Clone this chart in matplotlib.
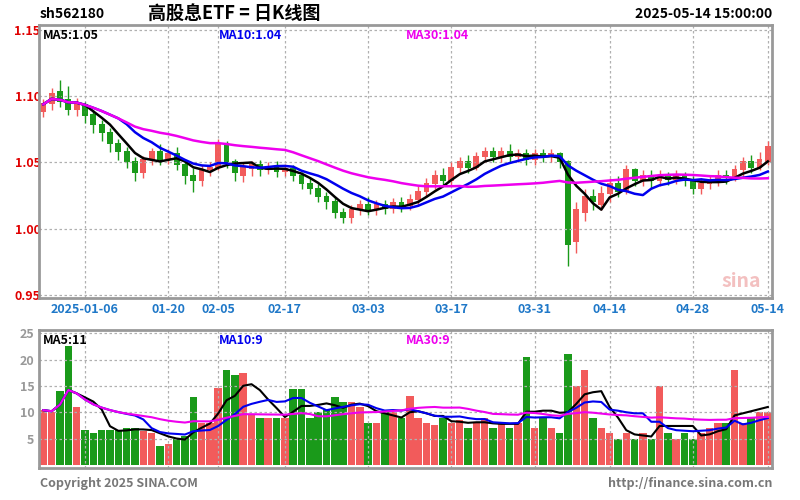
"""Sina-style daily K-line chart with volume panel (ETF, 2024-12-27 .. 2025-05-14)."""

import matplotlib

matplotlib.use("Agg")
import matplotlib.pyplot as plt  # noqa: E402
import numpy as np  # noqa: E402
import pandas as pd  # noqa: E402

plt.rcParams["font.family"] = ["Noto Sans CJK SC", "DejaVu Sans"]

# trading days shown, one bar each
dates = (
    ["2024-12-27", "2024-12-30", "2024-12-31", "2025-01-02", "2025-01-03"]
    + [f"2025-01-{d:02d}" for d in (6, 7, 8, 9, 10, 13, 14, 15, 16, 17, 20, 21, 22, 23, 24, 27)]
    + [f"2025-02-{d:02d}" for d in (5, 6, 7, 10, 11, 12, 13, 14, 17, 18, 19, 20, 21, 24, 25, 26, 27, 28)]
    + [f"2025-03-{d:02d}" for d in (3, 4, 5, 6, 7, 10, 11, 12, 13, 14, 17, 18, 19, 20, 21, 24, 25, 26, 27, 28, 31)]
    + [f"2025-04-{d:02d}" for d in (1, 2, 3, 7, 8, 9, 10, 11, 14, 15, 16, 17, 18, 21, 22, 23, 24, 25, 28, 29, 30)]
    + [f"2025-05-{d:02d}" for d in (6, 7, 8, 9, 12, 13, 14)]
)
opens = [1.088, 1.094, 1.103, 1.097, 1.090, 1.093, 1.086, 1.078, 1.072, 1.064,
         1.058, 1.050, 1.042, 1.052, 1.058, 1.053, 1.056, 1.048, 1.040, 1.036,
         1.044, 1.046, 1.064, 1.050, 1.040, 1.045, 1.048, 1.044, 1.046, 1.043,
         1.045, 1.040, 1.034, 1.030, 1.024, 1.020, 1.012, 1.008, 1.014, 1.018,
         1.014, 1.018, 1.015, 1.019, 1.017, 1.022, 1.028, 1.034, 1.040, 1.036,
         1.046, 1.050, 1.046, 1.054, 1.058, 1.054, 1.058, 1.054, 1.056, 1.052,
         1.056, 1.054, 1.056, 1.050, 0.990, 1.012, 1.024, 1.018, 1.026, 1.034,
         1.028, 1.044, 1.036, 1.040, 1.036, 1.040, 1.037, 1.040, 1.036, 1.030,
         1.034, 1.036, 1.040, 1.038, 1.044, 1.050, 1.046, 1.050]
closes = [1.094, 1.102, 1.096, 1.090, 1.094, 1.085, 1.078, 1.072, 1.064, 1.058,
          1.050, 1.042, 1.052, 1.058, 1.052, 1.056, 1.048, 1.040, 1.036, 1.044,
          1.046, 1.064, 1.050, 1.042, 1.046, 1.048, 1.044, 1.046, 1.043, 1.045,
          1.040, 1.034, 1.030, 1.024, 1.020, 1.012, 1.008, 1.014, 1.018, 1.014,
          1.018, 1.015, 1.019, 1.017, 1.022, 1.028, 1.034, 1.040, 1.036, 1.046,
          1.050, 1.046, 1.054, 1.058, 1.054, 1.058, 1.054, 1.056, 1.052, 1.056,
          1.054, 1.056, 1.050, 0.988, 1.014, 1.024, 1.020, 1.026, 1.034, 1.028,
          1.044, 1.036, 1.040, 1.036, 1.040, 1.037, 1.040, 1.036, 1.030, 1.034,
          1.036, 1.040, 1.038, 1.044, 1.050, 1.046, 1.052, 1.062]
highs = [1.098, 1.106, 1.112, 1.108, 1.099, 1.096, 1.090, 1.082, 1.076, 1.068,
         1.062, 1.054, 1.055, 1.061, 1.064, 1.060, 1.062, 1.052, 1.046, 1.048,
         1.050, 1.068, 1.066, 1.053, 1.050, 1.051, 1.052, 1.050, 1.051, 1.049,
         1.048, 1.043, 1.038, 1.034, 1.028, 1.024, 1.016, 1.018, 1.022, 1.024,
         1.022, 1.022, 1.023, 1.024, 1.026, 1.032, 1.038, 1.044, 1.046, 1.050,
         1.054, 1.056, 1.058, 1.062, 1.062, 1.062, 1.064, 1.060, 1.060, 1.060,
         1.060, 1.060, 1.058, 1.052, 1.020, 1.030, 1.030, 1.032, 1.038, 1.040,
         1.048, 1.046, 1.044, 1.044, 1.044, 1.043, 1.044, 1.043, 1.040, 1.038,
         1.040, 1.044, 1.044, 1.048, 1.054, 1.056, 1.058, 1.066]
lows = [1.084, 1.090, 1.092, 1.086, 1.085, 1.080, 1.072, 1.066, 1.058, 1.052,
        1.046, 1.036, 1.038, 1.048, 1.048, 1.049, 1.044, 1.034, 1.028, 1.032,
        1.040, 1.044, 1.046, 1.036, 1.035, 1.040, 1.040, 1.041, 1.039, 1.040,
        1.036, 1.030, 1.026, 1.020, 1.015, 1.008, 1.004, 1.004, 1.010, 1.010,
        1.010, 1.011, 1.012, 1.013, 1.014, 1.018, 1.024, 1.030, 1.032, 1.033,
        1.042, 1.042, 1.044, 1.050, 1.050, 1.050, 1.050, 1.050, 1.048, 1.048,
        1.050, 1.050, 1.046, 0.972, 0.982, 1.006, 1.014, 1.014, 1.020, 1.024,
        1.026, 1.032, 1.032, 1.030, 1.032, 1.033, 1.034, 1.032, 1.026, 1.026,
        1.030, 1.032, 1.034, 1.036, 1.040, 1.042, 1.044, 1.048]
volumes = [10.4, 10.0, 14.0, 22.5, 11.0, 6.6, 6.0, 6.6, 6.6, 6.6,
           7.0, 7.0, 6.5, 6.0, 3.6, 4.0, 5.0, 5.5, 12.8, 8.0,
           8.0, 14.6, 18.0, 17.0, 17.5, 9.5, 9.0, 9.0, 9.0, 9.0,
           14.5, 14.5, 9.0, 10.0, 10.4, 12.8, 12.0, 12.0, 11.0, 8.0,
           8.0, 10.0, 10.0, 9.0, 13.0, 9.0, 8.0, 7.5, 9.0, 8.0,
           8.5, 7.0, 8.0, 9.0, 7.0, 8.0, 7.0, 8.0, 20.5, 7.0,
           9.0, 7.0, 6.0, 21.0, 15.0, 18.0, 9.0, 7.0, 6.0, 5.0,
           6.0, 5.0, 6.0, 5.0, 15.0, 6.0, 5.0, 6.0, 5.0, 6.0,
           7.0, 8.0, 8.0, 18.0, 8.0, 9.0, 10.0, 10.0]

price_ticks = [0.95, 1.00, 1.05, 1.10, 1.15]
vol_ticks = [5, 10, 15, 20, 25]
date_ticks = ["2025-01-06", "2025-01-20", "2025-02-05", "2025-02-17", "2025-03-03",
              "2025-03-17", "2025-03-31", "2025-04-14", "2025-04-28", "2025-05-14"]

UP, DOWN = "#f25b5b", "#1a9a1a"
MA_COLORS = {5: "black", 10: "#0000ee", 30: "#ee00ee"}
GRID = "#b0b0b0"

x = np.arange(len(dates))
o, c, h, l, v = map(np.array, (opens, closes, highs, lows, volumes))
up = c >= o
colors = np.where(up, UP, DOWN)

fig = plt.figure(figsize=(8, 5), dpi=100)
ax = fig.add_axes([0.049, 0.404, 0.916, 0.546])
axv = fig.add_axes([0.049, 0.064, 0.916, 0.276])


def frame(a):
    for s in a.spines.values():
        s.set_color("#999999")
        s.set_linewidth(2)
    a.tick_params(length=0)
    a.set_xlim(-0.5, len(dates) - 0.5)


tick_idx = [dates.index(d) for d in date_ticks]

# price panel
ax.vlines(x, l, h, color=colors, lw=1)
ax.bar(x, np.abs(c - o) + 0.0008, bottom=np.minimum(o, c), width=0.7, color=colors)
cs = pd.Series(c)
for n, col in MA_COLORS.items():
    ax.plot(x, cs.rolling(n, min_periods=1).mean(), color=col, lw=1.8)
ax.set_ylim(0.9477, 1.1538)
ax.set_yticks(price_ticks)
ax.set_yticklabels([f"{t:.2f}" for t in price_ticks], color="#e00000", fontsize=9, fontweight="bold")
ax.yaxis.set_tick_params(pad=-1)
ax.set_xticks(tick_idx)
ax.set_xticklabels([d if i == 0 else d[5:] for i, d in enumerate(date_ticks)],
                   color="#1f78c8", fontsize=9, fontweight="bold")
ax.grid(True, color=GRID, ls=(0, (2, 2)), lw=0.9)
frame(ax)
ma_last = [cs.rolling(n).mean().iloc[-1] for n in MA_COLORS]
for xt, (n, col), val in zip((0.005, 0.245, 0.5), MA_COLORS.items(), ma_last):
    ax.text(xt, 0.985, f"MA{n}:{val:.2f}", transform=ax.transAxes, color=col,
            fontsize=9, fontweight="bold", va="top")
ax.text(0.985, 0.04, "sina", transform=ax.transAxes, color="#f3c0c0",
        fontsize=14, fontweight="bold", ha="right", style="italic")

# volume panel
axv.bar(x, v, width=0.9, color=colors)
vs = pd.Series(v)
for n, col in MA_COLORS.items():
    axv.plot(x, vs.rolling(n, min_periods=1).mean(), color=col, lw=1.5)
axv.set_ylim(-0.57, 25.6)
axv.set_yticks(vol_ticks)
axv.set_yticklabels([str(t) for t in vol_ticks], color="#999999", fontsize=9, fontweight="bold")
axv.set_xticks(tick_idx)
axv.set_xticklabels([])
axv.grid(True, color=GRID, ls=(0, (2, 2)), lw=0.9)
frame(axv)
vma_last = [vs.rolling(n).mean().iloc[-1] for n in MA_COLORS]
for xt, (n, col), val in zip((0.005, 0.245, 0.5), MA_COLORS.items(), vma_last):
    axv.text(xt, 0.97, f"MA{n}:{val:.0f}", transform=axv.transAxes, color=col,
             fontsize=9, fontweight="bold", va="top")

# header and footer
fig.text(0.05, 0.965, "sh562180", fontsize=10, fontweight="bold")
fig.text(0.185, 0.962, "高股息ETF = 日K线图", fontsize=13, fontweight="bold")
fig.text(0.965, 0.965, "2025-05-14 15:00:00", fontsize=10, fontweight="bold", ha="right")
fig.text(0.05, 0.025, "Copyright 2025 SINA.COM", fontsize=9, color="#777777", fontweight="bold")
fig.text(0.965, 0.025, "http://finance.sina.com.cn", fontsize=9, color="#777777",
         fontweight="bold", ha="right")

fig.savefig("out.png", dpi=100)
